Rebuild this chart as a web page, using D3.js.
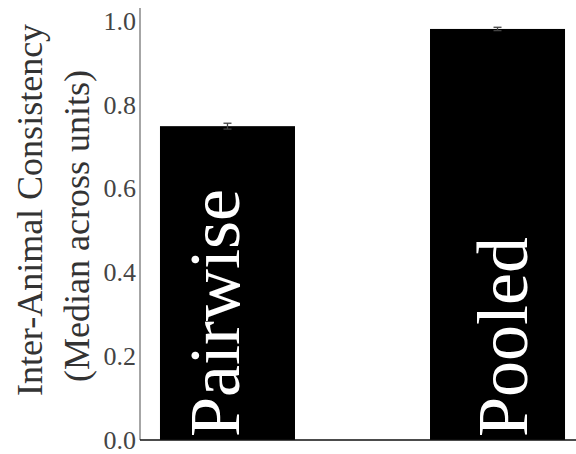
<!DOCTYPE html>
<html>
<head>
<meta charset="utf-8">
<script src="https://cdn.jsdelivr.net/npm/d3@7"></script>
<style>
  html, body { margin: 0; padding: 0; background: #fff; }
  svg { display: block; }
  svg text { font-family: "Liberation Serif", "DejaVu Serif", serif; }
</style>
</head>
<body>
<svg id="chart" width="576" height="454"></svg>
<script>
// Median inter-animal consistency, pairwise vs pooled
const categories = ["Pairwise", "Pooled"];
const medians = [0.749, 0.981];
const errors = [0.007, 0.004];
const yTicks = [0.0, 0.2, 0.4, 0.6, 0.8, 1.0];
const yLabelLines = ["Inter-Animal Consistency", "(Median across units)"];

// layout
const W = 576, H = 454;
const plot = { left: 140, right: 585, top: 8, bottom: 440 };
const labelShift = [12, 29];   // baseline offset of bar labels from bar centre
const SERIF = "'Liberation Serif', 'DejaVu Serif', serif";

const svg = d3.select("#chart");

const x = d3.scaleBand()
  .domain(categories)
  .range([plot.left, plot.right])
  .paddingInner(0.5)
  .paddingOuter(0.074);

const y = d3.scaleLinear()
  .domain([0, 1.031])
  .range([plot.bottom, plot.top]);

// bars
svg.append("g").selectAll("rect")
  .data(categories)
  .join("rect")
  .attr("x", d => x(d))
  .attr("width", x.bandwidth())
  .attr("y", (d, i) => y(medians[i]))
  .attr("height", (d, i) => y(0) - y(medians[i]))
  .attr("fill", "#000");

// error bars
const eb = svg.append("g").attr("stroke", "#444").attr("stroke-width", 1.3);
categories.forEach((c, i) => {
  const cx = x(c) + x.bandwidth() / 2;
  const lo = y(medians[i] - errors[i]), hi = y(medians[i] + errors[i]);
  eb.append("line").attr("x1", cx).attr("x2", cx).attr("y1", lo).attr("y2", hi);
  eb.append("line").attr("x1", cx - 4).attr("x2", cx + 4).attr("y1", hi).attr("y2", hi);
  eb.append("line").attr("x1", cx - 4).attr("x2", cx + 4).attr("y1", lo).attr("y2", lo);
});

// category names written up the bars
svg.append("g").selectAll("text")
  .data(categories)
  .join("text")
  .attr("transform", (d, i) =>
    `translate(${x(d) + x.bandwidth() / 2 + labelShift[i]},${plot.bottom - 3}) rotate(-90)`)
  .attr("text-anchor", "start")
  .attr("fill", "#fff")
  .style("font-family", SERIF)
  .style("font-size", "72px")
  .text(d => d);

// y axis
const yAxis = d3.axisLeft(y)
  .tickValues(yTicks)
  .tickFormat(d3.format(".1f"))
  .tickSize(0)
  .tickPadding(4);

const ga = svg.append("g")
  .attr("transform", `translate(${plot.left},0)`)
  .call(yAxis);
ga.select(".domain").remove();
ga.selectAll("text")
  .style("font-family", SERIF)
  .style("font-size", "26px")
  .attr("fill", "#444")
  .attr("dy", "0.32em");

// spines
svg.append("line")
  .attr("x1", plot.left).attr("x2", plot.left)
  .attr("y1", plot.top).attr("y2", plot.bottom)
  .attr("stroke", "#888").attr("stroke-width", 1.5);
svg.append("line")
  .attr("x1", plot.left).attr("x2", W)
  .attr("y1", plot.bottom).attr("y2", plot.bottom)
  .attr("stroke", "#111").attr("stroke-width", 1.5);

// y axis title, two lines
const titleY = [210, 226];
const titleX = [42, 89];
yLabelLines.forEach((t, i) => {
  svg.append("text")
    .attr("transform", `translate(${titleX[i]},${titleY[i]}) rotate(-90)`)
    .attr("text-anchor", "middle")
    .attr("fill", "#333")
    .style("font-family", SERIF)
    .style("font-size", "36px")
    .text(t);
});
</script>
</body>
</html>
